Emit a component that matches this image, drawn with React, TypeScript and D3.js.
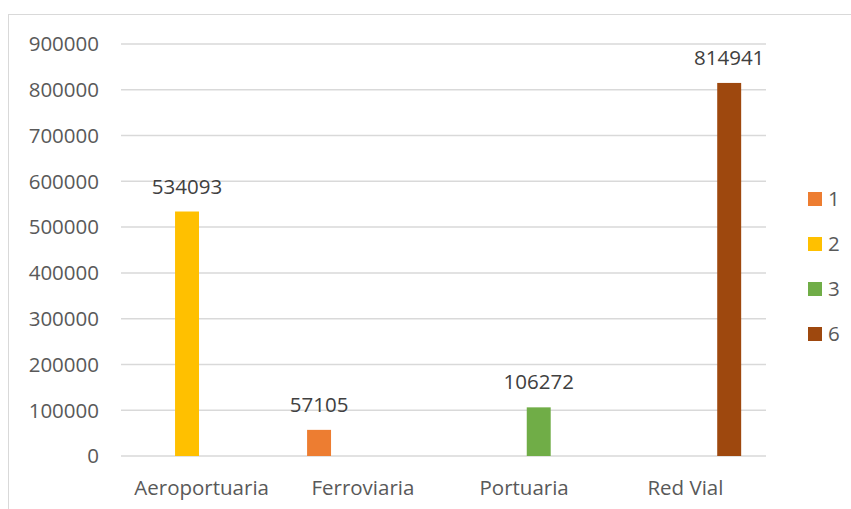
// @ts-nocheck
import * as d3 from "d3"

const categories = ["Aeroportuaria", "Ferroviaria", "Portuaria", "Red Vial"]
const seriesNames = ["1", "2", "3", "6"]
const seriesColors = ["#ed7d31", "#ffc000", "#70ad47", "#9e480e"]
// one value per category, the series that holds it
const values = [
  { category: "Aeroportuaria", series: "2", value: 534093 },
  { category: "Ferroviaria", series: "1", value: 57105 },
  { category: "Portuaria", series: "3", value: 106272 },
  { category: "Red Vial", series: "6", value: 814941 },
]
const yTicks = [0, 100000, 200000, 300000, 400000, 500000, 600000, 700000, 800000, 900000]

const width = 851
const height = 509
const font = "'Open Sans', 'DejaVu Sans', sans-serif"
const textColor = "#595959"
const gridColor = "#d9d9d9"

export default function App() {
  const plotLeft = 121
  const plotRight = 766
  const x0 = d3.scaleBand().domain(categories).range([plotLeft, plotRight])
  const x1 = d3.scaleBand().domain(seriesNames).range([0, x0.bandwidth()])
    .paddingInner(0.18).paddingOuter(0.85)
  const y = d3.scaleLinear().domain([0, 900000]).range([456, 44])
  const color = d3.scaleOrdinal().domain(seriesNames).range(seriesColors)

  return (
    <svg width={width} height={height} style={{ position: "absolute", left: 0, top: 0, background: "#fff" }}
      fontFamily={font}>
      <rect x={8.5} y={14.5} width={900} height={600} fill="#fff" stroke={gridColor} />

      {/* grid + y labels */}
      {yTicks.map(t => (
        <g key={t}>
          <line x1={plotLeft} x2={plotRight} y1={y(t)} y2={y(t)} stroke={gridColor} strokeWidth={1.5} />
          <text x={99} y={y(t)} dy="0.36em" textAnchor="end" fontSize={20.5} fill={textColor}>{t}</text>
        </g>
      ))}

      {/* bars */}
      {values.map(d => (
        <rect key={d.category}
          x={x0(d.category) + x1(d.series)}
          y={y(d.value)}
          width={x1.bandwidth()}
          height={y(0) - y(d.value)}
          fill={color(d.series)} />
      ))}

      {/* data labels */}
      {values.map(d => (
        <text key={"l" + d.category}
          x={x0(d.category) + x1(d.series) + x1.bandwidth() / 2}
          y={y(d.value) - 18}
          textAnchor="middle" fontSize={20.5} fill="#404040">{d.value}</text>
      ))}

      {/* category labels */}
      {categories.map(c => (
        <text key={c} x={x0(c) + x0.bandwidth() / 2} y={495} textAnchor="middle"
          fontSize={20.5} fill={textColor}>{c}</text>
      ))}

      {/* legend */}
      {seriesNames.map((s, i) => (
        <g key={s} transform={`translate(808,${192 + i * 45})`}>
          <rect width={14} height={14} fill={color(s)} />
          <text x={20} y={7} dy="0.36em" fontSize={20.5} fill={textColor}>{s}</text>
        </g>
      ))}
    </svg>
  )
}
